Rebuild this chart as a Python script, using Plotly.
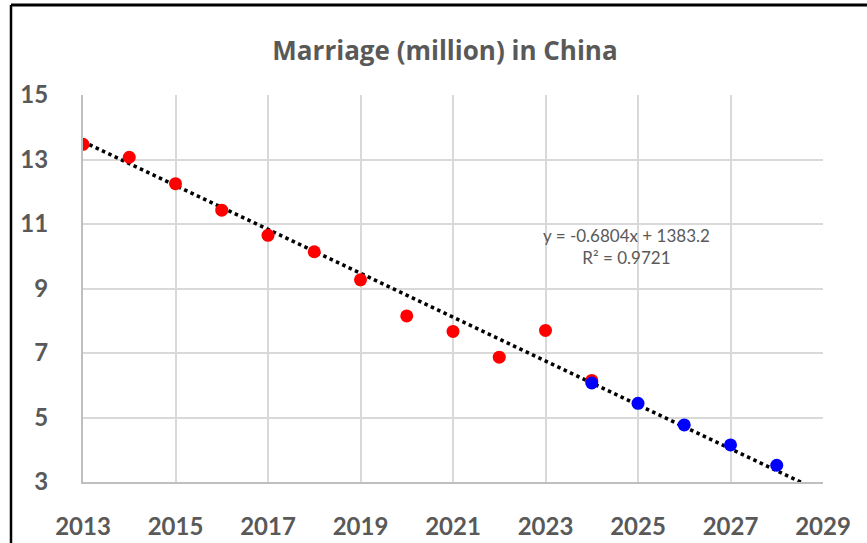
import plotly.graph_objects as go

# Observed data (million marriages)
years_obs = [2013, 2014, 2015, 2016, 2017, 2018, 2019, 2020, 2021, 2022, 2023, 2024]
marriages_obs = [13.47, 13.07, 12.25, 11.43, 10.65, 10.14, 9.27, 8.15, 7.67, 6.87, 7.70, 6.15]

# Projected values
years_proj = [2024, 2025, 2026, 2027, 2028]
marriages_proj = [6.07, 5.44, 4.77, 4.15, 3.52]

# Trendline from the displayed equation
slope = -0.6804
intercept = 1383.2
trend_x = [2013, 2029]
trend_y = [slope * x + intercept for x in trend_x]

x_ticks = [2013, 2015, 2017, 2019, 2021, 2023, 2025, 2027, 2029]
y_ticks = [3, 5, 7, 9, 11, 13, 15]

gray = "#595959"
fig = go.Figure()
fig.add_trace(go.Scatter(x=trend_x, y=trend_y, mode="lines",
                         line=dict(color="black", width=3.5, dash="dot"),
                         hoverinfo="skip", showlegend=False))
fig.add_trace(go.Scatter(x=years_obs, y=marriages_obs, mode="markers",
                         marker=dict(color="#ff0000", size=13), showlegend=False))
fig.add_trace(go.Scatter(x=years_proj, y=marriages_proj, mode="markers",
                         marker=dict(color="#0000ff", size=13), showlegend=False))

fig.update_layout(
    width=867, height=543,
    margin=dict(l=83, r=44, t=95, b=61, autoexpand=False),
    paper_bgcolor="white", plot_bgcolor="white",
    title=dict(text="Marriage (million) in China", x=445 / 867, xanchor="center",
               y=1 - 51 / 543, yanchor="middle",
               font=dict(family="Open Sans", size=26, color=gray, weight="bold")),
    xaxis=dict(range=[2013, 2029], tickvals=x_ticks, ticktext=[str(v) for v in x_ticks],
               showgrid=True, gridcolor="#d9d9d9", gridwidth=2,
               showline=True, linecolor="#bfbfbf", linewidth=2,
               zeroline=False, ticks="", ticklabelstandoff=22, automargin=False,
               tickfont=dict(family="Lato", size=24, color=gray, weight="bold")),
    yaxis=dict(range=[3, 15], tickvals=y_ticks,
               showgrid=True, gridcolor="#d9d9d9", gridwidth=2,
               showline=True, linecolor="#bfbfbf", linewidth=2,
               zeroline=False, ticks="", ticklabelstandoff=28, automargin=False,
               tickfont=dict(family="Lato", size=24, color=gray, weight="bold")),
    annotations=[dict(text="y = -0.6804x + 1383.2<br>R² = 0.9721", x=2024.75, y=10.3,
                      xref="x", yref="y", showarrow=False, align="center",
                      font=dict(family="Lato", size=17, color=gray))],
    shapes=[
        dict(type="line", xref="paper", yref="paper",
             x0=(11 - 83) / 740, x1=(11 - 83) / 740, y0=(482 - 5) / 387, y1=-0.3,
             line=dict(color="black", width=2.5)),
        dict(type="line", xref="paper", yref="paper",
             x0=(11 - 83) / 740, x1=1.1, y0=(482 - 5) / 387, y1=(482 - 5) / 387,
             line=dict(color="black", width=3)),
    ],
)
fig.write_html("out.html", config={"displayModeBar": False},
               post_script="document.body.style.margin='0';document.body.style.overflow='hidden';")
